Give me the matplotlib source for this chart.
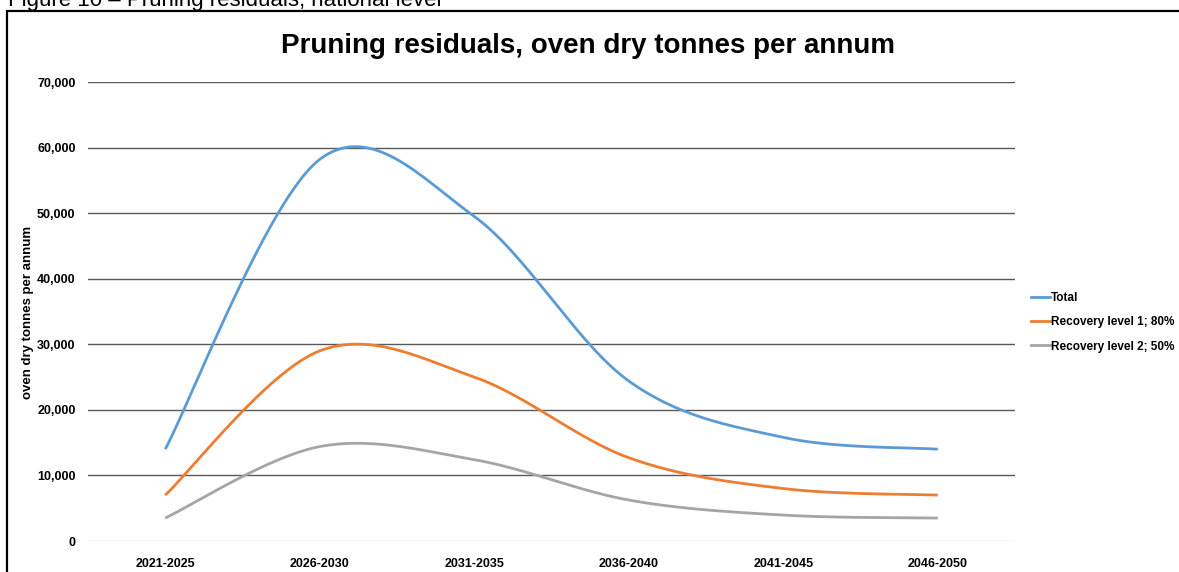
import numpy as np
import matplotlib
matplotlib.use("Agg")
import matplotlib.pyplot as plt
from matplotlib.patches import Rectangle
from matplotlib.lines import Line2D

categories = ["2021-2025", "2026-2030", "2031-2035", "2036-2040", "2041-2045", "2046-2050"]
total = [14000, 58200, 49500, 24400, 15800, 14000]
recovery1 = [7000, 29000, 25000, 12700, 8000, 7000]
recovery2 = [3500, 14400, 12400, 6250, 3950, 3500]
yticks = [0, 10000, 20000, 30000, 40000, 50000, 60000, 70000]

plt.rcParams['font.family'] = ['Liberation Sans', 'DejaVu Sans']

W, H = 1179, 572
fig = plt.figure(figsize=(W / 100, H / 100), dpi=100)


def smooth(xs, ys, n=60):
    # Excel-style smoothed line: Catmull-Rom Bezier segments
    xs = np.asarray(xs, float)
    ys = np.asarray(ys, float)
    px = np.concatenate([[xs[0]], xs, [xs[-1]]])
    py = np.concatenate([[ys[0]], ys, [ys[-1]]])
    ox, oy = [], []
    t = np.linspace(0, 1, n)
    for i in range(1, len(px) - 2):
        p0 = np.array([px[i], py[i]])
        p3 = np.array([px[i + 1], py[i + 1]])
        c1 = p0 + (np.array([px[i + 1], py[i + 1]]) - np.array([px[i - 1], py[i - 1]])) / 6
        c2 = p3 - (np.array([px[i + 2], py[i + 2]]) - np.array([px[i], py[i]])) / 6
        b = ((1 - t) ** 3)[:, None] * p0 + (3 * (1 - t) ** 2 * t)[:, None] * c1 \
            + (3 * (1 - t) * t ** 2)[:, None] * c2 + (t ** 3)[:, None] * p3
        ox.extend(b[:, 0])
        oy.extend(b[:, 1])
    return np.array(ox), np.array(oy)


# caption (cut off at top) and chart border
fig.text(8 / W, 1 - 6 / H, "Figure 10 \u2013 Pruning residuals, national level",
         fontsize=16, va='baseline', ha='left')
fig.patches.append(Rectangle((7 / W, -0.05), 1.1, 1 - 11 / H + 0.05, transform=fig.transFigure,
                             fill=False, edgecolor='black', linewidth=1.6))

ax = fig.add_axes([88 / W, 1 - 541 / H, (1015 - 88) / W, (541 - 82) / H])
x = np.arange(len(categories))
series = [(total, "#5B9BD5", "Total"),
          (recovery1, "#ED7D31", "Recovery level 1; 80%"),
          (recovery2, "#A5A5A5", "Recovery level 2; 50%")]
handles = []
for vals, col, lab in series:
    sx, sy = smooth(x, vals)
    ax.plot(sx, sy, color=col, linewidth=2.0, solid_capstyle='butt')
    handles.append(Line2D([0], [0], color=col, linewidth=2.0, label=lab))

ax.set_xlim(-0.5, len(categories) - 0.5)
ax.set_ylim(0, 70000)
ax.set_yticks(yticks)
ax.set_yticklabels([f"{v:,}" for v in yticks], fontweight='bold', fontsize=9)
ax.set_xticks(x)
ax.set_xticklabels(categories, fontweight='bold', fontsize=9)
for v in yticks[1:]:
    ax.axhline(v, color='#595959', linewidth=1.0, zorder=0)
ax.axhline(0, color='#D9D9D9', linewidth=1.0, zorder=0)
for s in ax.spines.values():
    s.set_visible(False)
ax.tick_params(axis='both', length=0)
ax.tick_params(axis='y', pad=9)
ax.tick_params(axis='x', pad=12)

fig.text(28 / W, 1 - 312 / H, "oven dry tonnes per annum", rotation=90, fontsize=9.5,
         fontweight='bold', ha='center', va='center')
fig.text(588 / W, 1 - 46 / H, "Pruning residuals, oven dry tonnes per annum",
         fontsize=20, fontweight='bold', ha='center', va='center')

fig.legend(handles=handles, loc='upper left', bbox_to_anchor=(1026 / W, 1 - 287 / H),
           frameon=False, prop={'weight': 'bold', 'size': 8.5}, handlelength=1.6,
           handletextpad=0.1, labelspacing=1.05, borderaxespad=0)

fig.savefig("out.png", dpi=100)
